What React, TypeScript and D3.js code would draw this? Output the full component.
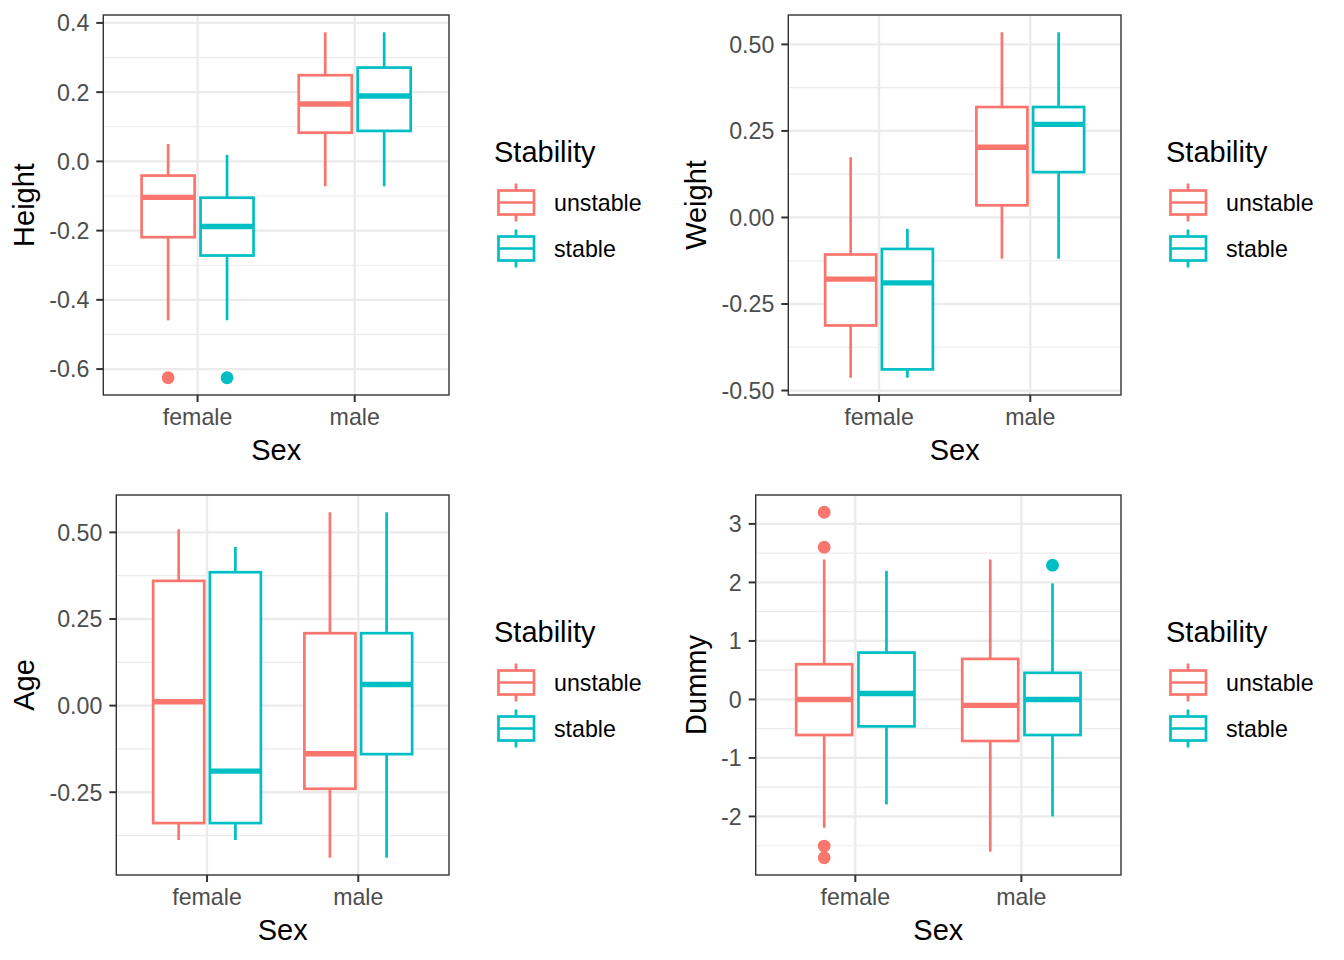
import React from "react";
import * as d3 from "d3";

const categories = ["female", "male"];
const groups = ["unstable", "stable"];
const groupColors = ["#F8766D", "#00BFC4"];

// Box statistics per category: [lower whisker, Q1, median, Q3, upper whisker]
const heightUnstable = [
  [-0.459, -0.219, -0.104, -0.041, 0.05],
  [-0.072, 0.083, 0.166, 0.249, 0.373],
];
const heightStable = [
  [-0.459, -0.272, -0.188, -0.105, 0.019],
  [-0.072, 0.088, 0.189, 0.271, 0.373],
];
const heightOutUnstable = [[-0.625], []];
const heightOutStable = [[-0.625], []];
const heightTicks = [-0.6, -0.4, -0.2, 0, 0.2, 0.4];

const weightUnstable = [
  [-0.463, -0.312, -0.178, -0.107, 0.174],
  [-0.119, 0.035, 0.203, 0.319, 0.535],
];
const weightStable = [
  [-0.463, -0.439, -0.189, -0.091, -0.033],
  [-0.119, 0.131, 0.269, 0.319, 0.535],
];
const weightOutUnstable = [[], []];
const weightOutStable = [[], []];
const weightTicks = [-0.5, -0.25, 0, 0.25, 0.5];

const ageUnstable = [
  [-0.388, -0.339, 0.011, 0.36, 0.509],
  [-0.439, -0.24, -0.139, 0.209, 0.558],
];
const ageStable = [
  [-0.388, -0.339, -0.189, 0.385, 0.458],
  [-0.439, -0.14, 0.061, 0.209, 0.558],
];
const ageOutUnstable = [[], []];
const ageOutStable = [[], []];
const ageTicks = [-0.25, 0, 0.25, 0.5];

const dummyUnstable = [
  [-2.193, -0.608, 0.0, 0.602, 2.392],
  [-2.602, -0.71, -0.102, 0.693, 2.392],
];
const dummyStable = [
  [-1.795, -0.46, 0.102, 0.801, 2.199],
  [-2.0, -0.608, 0.0, 0.455, 1.983],
];
const dummyOutUnstable = [[3.199, 2.602, -2.506, -2.705], []];
const dummyOutStable = [[], [2.295]];
const dummyTicks = [-2, -1, 0, 1, 2, 3];

const FONT = "'Liberation Sans', Arial, Helvetica, sans-serif";
const SMALL = 23.2;
const BIG = 29;

type PanelDef = {
  ylabel: string;
  stats: number[][][];
  outliers: number[][][];
  ticks: number[];
  decimals: number;
  cx: number;
  cy: number;
  left: number;
};

const panels: PanelDef[] = [
  { ylabel: "Height", stats: [heightUnstable, heightStable], outliers: [heightOutUnstable, heightOutStable], ticks: heightTicks, decimals: 1, cx: 0, cy: 0, left: 103.3 },
  { ylabel: "Weight", stats: [weightUnstable, weightStable], outliers: [weightOutUnstable, weightOutStable], ticks: weightTicks, decimals: 2, cx: 672, cy: 0, left: 788.3 },
  { ylabel: "Age", stats: [ageUnstable, ageStable], outliers: [ageOutUnstable, ageOutStable], ticks: ageTicks, decimals: 2, cx: 0, cy: 480, left: 116.3 },
  { ylabel: "Dummy", stats: [dummyUnstable, dummyStable], outliers: [dummyOutUnstable, dummyOutStable], ticks: dummyTicks, decimals: 0, cx: 672, cy: 480, left: 755.7 },
];

function Panel({ p }: { p: PanelDef }) {
  const top = p.cy + 15;
  const bottom = p.cy + 395;
  const right = p.cx + 449;
  const left = p.left;

  const allVals: number[] = [];
  p.stats.forEach((g) => g.forEach((s) => allVals.push(...s)));
  p.outliers.forEach((g) => g.forEach((o) => allVals.push(...o)));
  const [mn, mx] = d3.extent(allVals) as [number, number];
  const pad = (mx - mn) * 0.05;
  const y = d3.scaleLinear().domain([mn - pad, mx + pad]).range([bottom, top]);
  const x = d3.scaleLinear().domain([0.4, 2.6]).range([left, right]);

  const step = p.ticks[1] - p.ticks[0];
  const minor = [p.ticks[0] - step / 2, ...p.ticks.map((t) => t + step / 2)].filter(
    (v) => v > y.domain()[0] && v < y.domain()[1]
  );

  const dodge = 0.1875;
  const half = 0.16875;

  return (
    <g>
      <rect x={left} y={top} width={right - left} height={bottom - top} fill="#FFFFFF" />
      {minor.map((v, i) => (
        <line key={"mn" + i} x1={left} x2={right} y1={y(v)} y2={y(v)} stroke="#EBEBEB" strokeWidth={1.2} />
      ))}
      {p.ticks.map((v, i) => (
        <line key={"mj" + i} x1={left} x2={right} y1={y(v)} y2={y(v)} stroke="#EBEBEB" strokeWidth={2.3} />
      ))}
      {categories.map((c, i) => (
        <line key={"vx" + i} x1={x(i + 1)} x2={x(i + 1)} y1={top} y2={bottom} stroke="#EBEBEB" strokeWidth={2.3} />
      ))}
      {groups.map((g, gi) =>
        categories.map((c, ci) => {
          const s = p.stats[gi][ci];
          const center = ci + 1 + (gi === 0 ? -dodge : dodge);
          const xc = x(center);
          const x0 = x(center - half);
          const x1 = x(center + half);
          const col = groupColors[gi];
          return (
            <g key={g + c}>
              <line x1={xc} x2={xc} y1={y(s[4])} y2={y(s[3])} stroke={col} strokeWidth={2.7} />
              <line x1={xc} x2={xc} y1={y(s[1])} y2={y(s[0])} stroke={col} strokeWidth={2.7} />
              <rect x={x0} y={y(s[3])} width={x1 - x0} height={y(s[1]) - y(s[3])} fill="#FFFFFF" stroke={col} strokeWidth={2.7} />
              <line x1={x0} x2={x1} y1={y(s[2])} y2={y(s[2])} stroke={col} strokeWidth={5.4} />
              {p.outliers[gi][ci].map((o, oi) => (
                <circle key={oi} cx={xc} cy={y(o)} r={6.4} fill={col} />
              ))}
            </g>
          );
        })
      )}
      <rect x={left} y={top} width={right - left} height={bottom - top} fill="none" stroke="#333333" strokeWidth={1.4} />
      {p.ticks.map((v, i) => (
        <g key={"yt" + i}>
          <line x1={left - 7} x2={left} y1={y(v)} y2={y(v)} stroke="#333333" strokeWidth={2} />
          <text x={left - 14} y={y(v)} dy="0.36em" textAnchor="end" fontSize={SMALL} fill="#4D4D4D" fontFamily={FONT}>
            {v.toFixed(p.decimals)}
          </text>
        </g>
      ))}
      {categories.map((c, i) => (
        <g key={"xt" + i}>
          <line x1={x(i + 1)} x2={x(i + 1)} y1={bottom} y2={bottom + 7} stroke="#333333" strokeWidth={2} />
          <text x={x(i + 1)} y={bottom + 30} textAnchor="middle" fontSize={SMALL} fill="#4D4D4D" fontFamily={FONT}>
            {c}
          </text>
        </g>
      ))}
      <text x={(left + right) / 2} y={p.cy + 460} textAnchor="middle" fontSize={BIG} fill="#000000" fontFamily={FONT}>
        Sex
      </text>
      <text
        transform={`translate(${p.cx + 34},${(top + bottom) / 2}) rotate(-90)`}
        textAnchor="middle"
        fontSize={BIG}
        fill="#000000"
        fontFamily={FONT}
      >
        {p.ylabel}
      </text>
      <Legend lx={p.cx + 494} ly={p.cy} />
    </g>
  );
}

function Legend({ lx, ly }: { lx: number; ly: number }) {
  return (
    <g>
      <text x={lx} y={ly + 162} fontSize={BIG} fill="#000000" fontFamily={FONT}>
        Stability
      </text>
      {groups.map((g, i) => {
        const kc = ly + 202.5 + i * 46;
        const col = groupColors[i];
        const xc = lx + 22;
        return (
          <g key={g}>
            <line x1={xc} x2={xc} y1={kc - 19} y2={kc - 12} stroke={col} strokeWidth={2.7} />
            <line x1={xc} x2={xc} y1={kc + 12} y2={kc + 19} stroke={col} strokeWidth={2.7} />
            <rect x={lx + 4.5} y={kc - 12} width={35.5} height={24} fill="#FFFFFF" stroke={col} strokeWidth={2.7} />
            <line x1={lx + 4.5} x2={lx + 40} y1={kc} y2={kc} stroke={col} strokeWidth={2.7} />
            <text x={lx + 60} y={kc + 8.5} fontSize={SMALL} fill="#000000" fontFamily={FONT}>
              {g}
            </text>
          </g>
        );
      })}
    </g>
  );
}

export default function App() {
  return (
    <svg
      width={1344}
      height={960}
      style={{ position: "absolute", left: 0, top: 0, background: "#FFFFFF" }}
    >
      <rect x={0} y={0} width={1344} height={960} fill="#FFFFFF" />
      {panels.map((p, i) => (
        <Panel key={i} p={p} />
      ))}
    </svg>
  );
}
